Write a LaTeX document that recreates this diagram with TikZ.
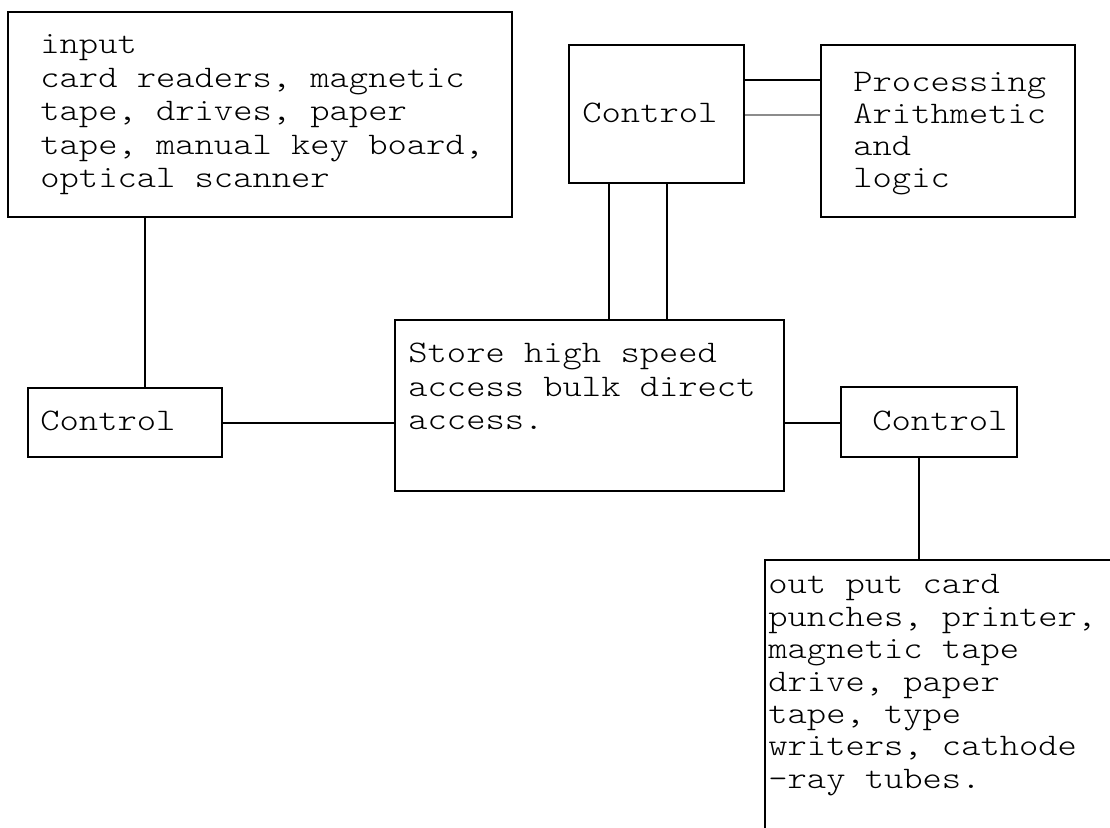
\documentclass[tikz,border=0pt]{standalone}
\usepackage{fontspec}
\setmonofont{lmmonolt10-regular.otf}[FakeStretch=1.17]
\newcommand\boxlines[2]{\vtop{\baselineskip=#1\lineskiplimit=-100pt\lineskip=0pt #2}}
\begin{document}
\begin{tikzpicture}[x=0.5pt,y=-0.5pt,
  box/.style={draw,line width=1pt,inner sep=0pt,rectangle},
  txt/.style={anchor=base west,inner sep=0pt,font=\ttfamily\fontsize{15.7pt}{16.5pt}\selectfont},
  wire/.style={line width=1pt},
  faintwire/.style={line width=0.7pt,draw=black!45}]
\useasboundingbox[fill=white] (0,0) rectangle (1110,828);

% boxes
\node[box,minimum width=252pt,minimum height=102.5pt] (inp) at (260,114.5) {};
\node[box,minimum width=97pt,minimum height=34.5pt] (cl) at (125,422.5) {};
\node[box,minimum width=87.5pt,minimum height=69pt] (ct) at (656.5,114) {};
\node[box,minimum width=127pt,minimum height=86pt] (proc) at (948,131) {};
\node[box,minimum width=194.5pt,minimum height=85.5pt] (store) at (589.5,405.5) {};
\node[box,minimum width=88pt,minimum height=35pt] (cr) at (929,422) {};

% output box (only top and left edges visible)
\coordinate (outtl) at (765,560);
\coordinate (outtop) at (919,560);
\draw[wire] (765,828) -- (outtl) -- (1110,560);

% texts
\node[txt] (tinp) at (40,54) {\boxlines{16.75pt}{\hbox{input}\hbox{card readers, magnetic}\hbox{tape, drives, paper}\hbox{tape, manual key board,}\hbox{optical scanner}}};
\node[txt] (tcl) at (40,431) {Control};
\node[txt] (tct) at (582,123) {Control};
\node[txt] (tproc) at (853,92) {\boxlines{16pt}{\hbox{Processing}\hbox{Arithmetic}\hbox{and}\hbox{logic}}};
\node[txt] (tstore) at (408,363) {\boxlines{16.75pt}{\hbox{Store high speed}\hbox{access bulk direct}\hbox{access.}}};
\node[txt] (tcr) at (872,431) {Control};
\node[txt] (tout) at (768,594) {\boxlines{16.17pt}{\hbox{out put card}\hbox{punches, printer,}\hbox{magnetic tape}\hbox{drive, paper}\hbox{tape, type}\hbox{writers, cathode}\hbox{-ray tubes.}}};

% guide coordinates for connectors
\coordinate (xa) at (145,0);
\coordinate (xb) at (609,0);
\coordinate (xc) at (667,0);
\coordinate (ya) at (0,80);
\coordinate (yb) at (0,115);
\coordinate (yc) at (0,423);

% connectors
\draw[wire] (inp.south -| xa) -- (cl.north -| xa);
\draw[wire] (cl.east |- yc) -- (store.west |- yc);
\draw[wire] (store.east |- yc) -- (cr.west |- yc);
\draw[wire] (cr.south -| outtop) -- (outtop);
\draw[wire] (ct.south -| xb) -- (store.north -| xb);
\draw[wire] (ct.south -| xc) -- (store.north -| xc);
\draw[wire] (ct.east |- ya) -- (proc.west |- ya);
\draw[faintwire] (ct.east |- yb) -- (proc.west |- yb);
\end{tikzpicture}
\end{document}
